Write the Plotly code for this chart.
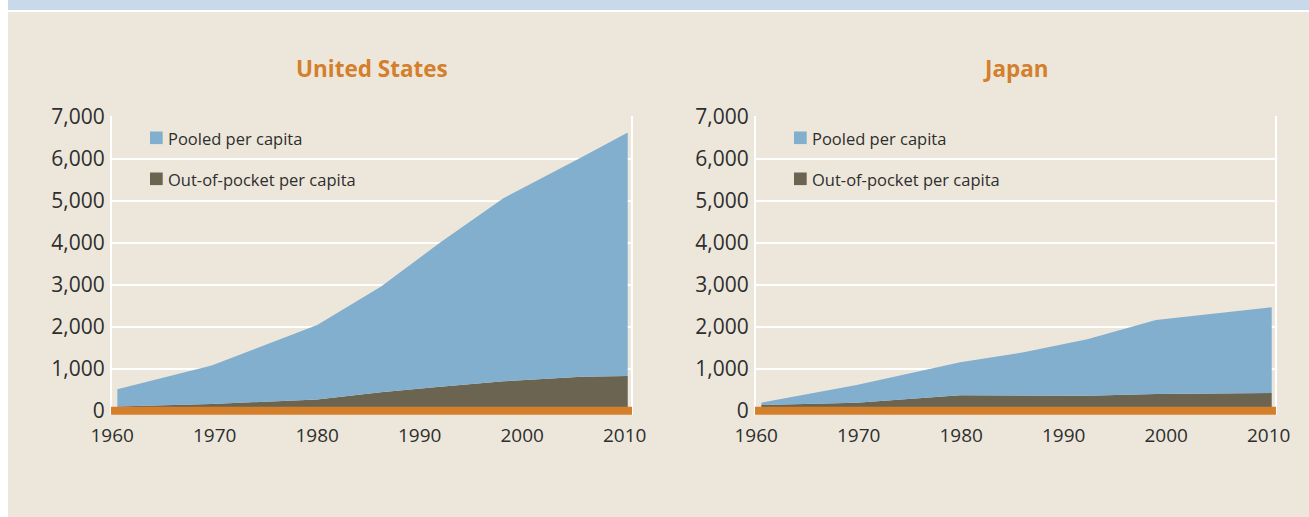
import plotly.graph_objects as go

W, H = 1309, 517

# ---------------- data ----------------
us_years = [1960.5, 1969.7, 1980, 1986.2, 1992, 1998.2, 2005.8, 2010.3]
us_oop = [100, 160, 265, 440, 570, 700, 810, 826]
us_pooled = [410, 915, 1775, 2510, 3430, 4360, 5220, 5794]

jp_years = [1960.5, 1969.8, 1979.9, 1986.1, 1992.3, 1999.0, 2010.3]
jp_oop = [135, 190, 370, 355, 355, 397, 421]
jp_pooled = [55, 422, 782, 1035, 1345, 1763, 2041]

x_ticks = [1960, 1970, 1980, 1990, 2000, 2010]
y_ticks = [0, 1000, 2000, 3000, 4000, 5000, 6000, 7000]
titles = ["United States", "Japan"]
series_names = ["Pooled per capita", "Out-of-pocket per capita"]

# ---------------- style ----------------
BLUE = "#82AFCE"
BROWN = "#6B6450"
ORANGE = "#D47F2B"
BEIGE = "#EDE7DB"
BAND = "#C8D9E9"
TEXT = "#2E2E2E"
FONT = "Open Sans"


def px_x(x):
    return x / W


def px_y(y):
    return 1 - y / H


fig = go.Figure()

datasets = [(us_years, us_oop, us_pooled), (jp_years, jp_oop, jp_pooled)]
for i, (yrs, oop, pooled) in enumerate(datasets):
    xa = "x" if i == 0 else "x2"
    ya = "y" if i == 0 else "y2"
    fig.add_trace(go.Scatter(x=yrs, y=oop, name=series_names[1], stackgroup=f"s{i}",
                             mode="lines", line=dict(width=0, color=BROWN),
                             fillcolor=BROWN, xaxis=xa, yaxis=ya, showlegend=False))
    fig.add_trace(go.Scatter(x=yrs, y=pooled, name=series_names[0], stackgroup=f"s{i}",
                             mode="lines", line=dict(width=0, color=BLUE),
                             fillcolor=BLUE, xaxis=xa, yaxis=ya, showlegend=False))

# plot-area pixel geometry
plot_left = [112, 756]
plot_w = 519
y_top_px, y_bot_px = 115.86, 415.3
ydom = [px_y(y_bot_px), px_y(y_top_px)]
xrange_ = [1959.98, 2010.62]
yrange_ = [-110, 7015]

axis_font = dict(family=FONT, size=21, color=TEXT)
xaxis_common = dict(range=xrange_, tickvals=x_ticks, showgrid=False, zeroline=False,
                    showline=False, ticks="", tickfont=dict(family=FONT, size=19, color=TEXT),
                    ticklabelstandoff=7, fixedrange=True, automargin=False)
yaxis_common = dict(range=yrange_, tickvals=y_ticks, tickformat=",", showgrid=True,
                    gridcolor="white", gridwidth=2, zeroline=False, showline=True,
                    mirror=True, linecolor="white", linewidth=2, ticks="",
                    tickfont=axis_font, ticklabelstandoff=1, fixedrange=True, automargin=False)

fig.update_layout(
    width=W, height=H,
    margin=dict(l=0, r=0, t=0, b=0, pad=0, autoexpand=False),
    paper_bgcolor="white",
    plot_bgcolor="rgba(0,0,0,0)",
    showlegend=False,
    xaxis=dict(domain=[px_x(plot_left[0]), px_x(plot_left[0] + plot_w)], anchor="y", **xaxis_common),
    yaxis=dict(domain=ydom, anchor="x", **yaxis_common),
    xaxis2=dict(domain=[px_x(plot_left[1]), px_x(plot_left[1] + plot_w)], anchor="y2", **xaxis_common),
    yaxis2=dict(domain=ydom, anchor="x2", **yaxis_common),
)

shapes = [
    # top band and panel background
    dict(type="rect", xref="paper", yref="paper", x0=px_x(8), x1=1, y0=px_y(10), y1=1,
         fillcolor=BAND, line=dict(width=0), layer="below"),
    dict(type="rect", xref="paper", yref="paper", x0=px_x(8), x1=1, y0=0, y1=px_y(12),
         fillcolor=BEIGE, line=dict(width=0), layer="below"),
]
annotations = []
for i in range(2):
    yref = "y" if i == 0 else "y2"
    left = plot_left[i]
    # orange zero baseline
    shapes.append(dict(type="line", xref="paper", yref=yref, x0=px_x(left - 1), x1=px_x(left + plot_w + 1),
                       y0=0, y1=0, line=dict(color=ORANGE, width=8), layer="above"))
    # legend swatches
    for j, (col, yc) in enumerate([(BLUE, 137.8), (BROWN, 178.8)]):
        shapes.append(dict(type="rect", xref="paper", yref="paper",
                           x0=px_x(left + 38), x1=px_x(left + 50.7),
                           y0=px_y(yc + 6.3), y1=px_y(yc - 6.3),
                           fillcolor=col, line=dict(width=0), layer="above"))
        annotations.append(dict(text=series_names[j], xref="paper", yref="paper",
                                x=px_x(left + 54), y=px_y(yc + 0.5), xanchor="left", yanchor="middle",
                                showarrow=False, font=dict(family=FONT, size=16.5, color=TEXT)))
    # title
    annotations.append(dict(text=titles[i], xref="paper", yref="paper",
                            x=px_x(left + plot_w / 2), y=px_y(68.5), xanchor="center", yanchor="middle",
                            showarrow=False,
                            font=dict(family=FONT, size=22.5, color=ORANGE, weight=700)))

fig.update_layout(shapes=shapes, annotations=annotations)

fig.write_html("out.html")
